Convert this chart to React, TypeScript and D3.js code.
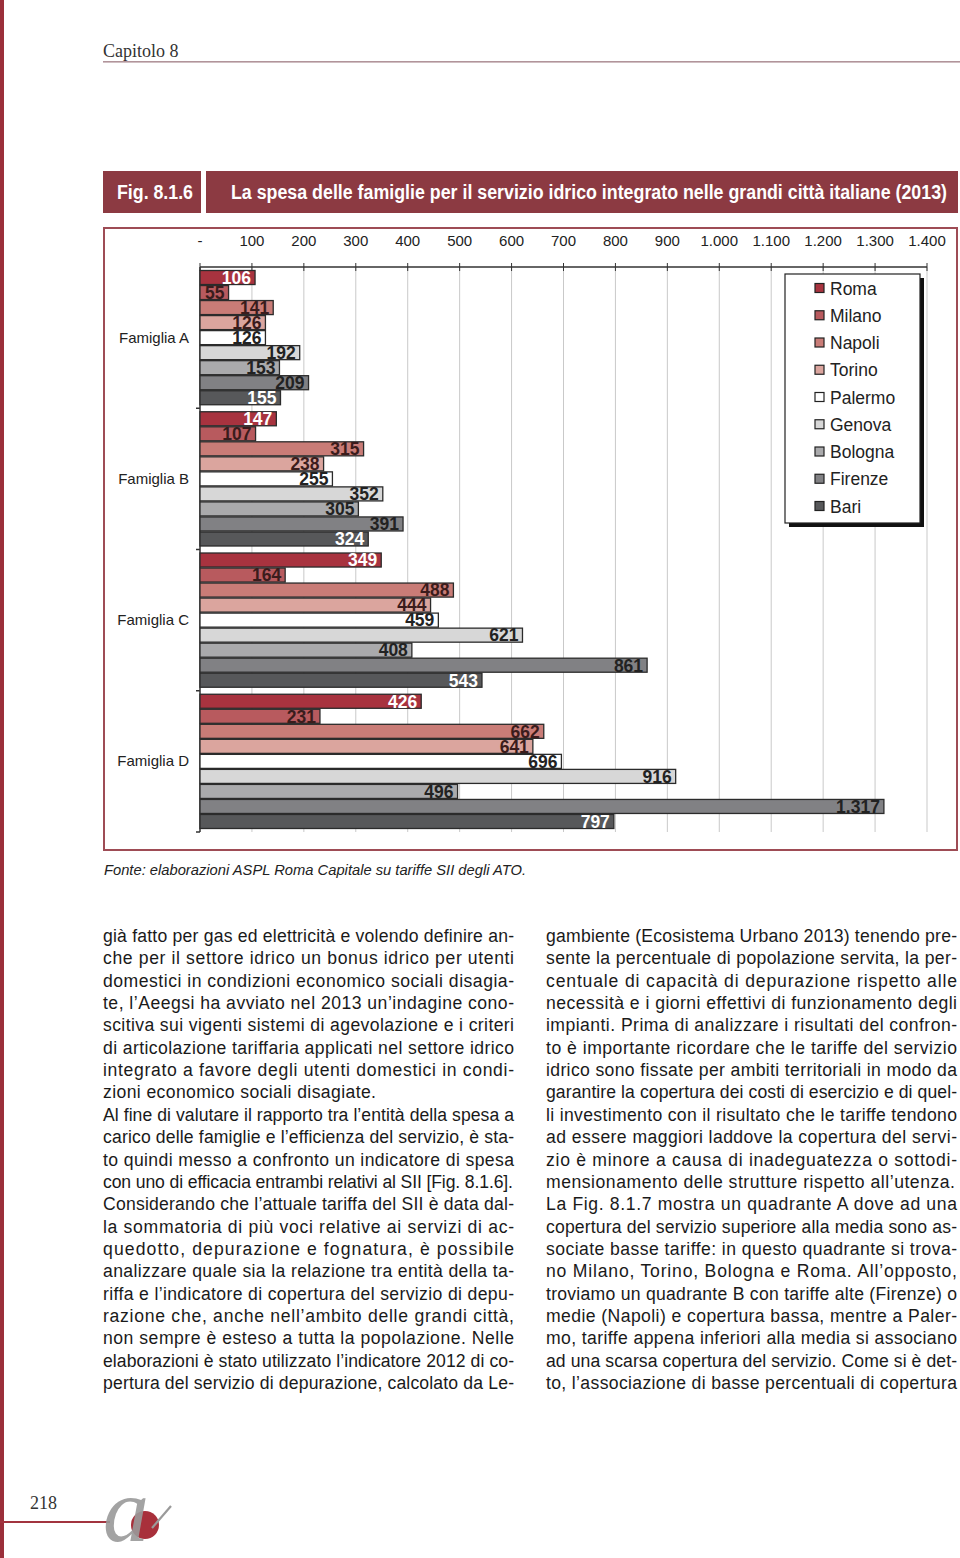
import React from "react";
import * as d3 from "d3";

const groups = ["Famiglia A", "Famiglia B", "Famiglia C", "Famiglia D"];
const cities = ["Roma", "Milano", "Napoli", "Torino", "Palermo", "Genova", "Bologna", "Firenze", "Bari"];
const famigliaA = [106, 55, 141, 126, 126, 192, 153, 209, 155];
const famigliaB = [147, 107, 315, 238, 255, 352, 305, 391, 324];
const famigliaC = [349, 164, 488, 444, 459, 621, 408, 861, 543];
const famigliaD = [426, 231, 662, 641, 696, 916, 496, 1317, 797];
const tickValues = [0, 100, 200, 300, 400, 500, 600, 700, 800, 900, 1000, 1100, 1200, 1300, 1400];

const cityColors = ["#a8333f", "#b85a5e", "#c97c77", "#dba59e", "#ffffff", "#d7d7d7", "#aaaaac", "#818184", "#57585a"];
const labelColors = ["#ffffff", "#3b1c1c", "#3b1c1c", "#3b1c1c", "#222222", "#222222", "#222222", "#222222", "#ffffff"];

const leftLines = [
  "già fatto per gas ed elettricità e volendo definire an-",
  "che per il settore idrico un bonus idrico per utenti",
  "domestici in condizioni economico sociali disagia-",
  "te, l’Aeegsi ha avviato nel 2013 un’indagine cono-",
  "scitiva sui vigenti sistemi di agevolazione e i criteri",
  "di articolazione tariffaria applicati nel settore idrico",
  "integrato a favore degli utenti domestici in condi-",
  "zioni economico sociali disagiate.",
  "Al fine di valutare il rapporto tra l’entità della spesa a",
  "carico delle famiglie e l’efficienza del servizio, è sta-",
  "to quindi messo a confronto un indicatore di spesa",
  "con uno di efficacia entrambi relativi al SII [Fig. 8.1.6].",
  "Considerando che l’attuale tariffa del SII è data dal-",
  "la sommatoria di più voci relative ai servizi di ac-",
  "quedotto, depurazione e fognatura, è possibile",
  "analizzare quale sia la relazione tra entità della ta-",
  "riffa e l’indicatore di copertura del servizio di depu-",
  "razione che, anche nell’ambito delle grandi città,",
  "non sempre è esteso a tutta la popolazione. Nelle",
  "elaborazioni è stato utilizzato l’indicatore 2012 di co-",
  "pertura del servizio di depurazione, calcolato da Le-",
];
// paragraph-ending lines and their (shorter) widths
const leftEnds: Record<number, number> = { 7: 273, 11: 410 };

const rightLines = [
  "gambiente (Ecosistema Urbano 2013) tenendo pre-",
  "sente la percentuale di popolazione servita, la per-",
  "centuale di capacità di depurazione rispetto alle",
  "necessità e i giorni effettivi di funzionamento degli",
  "impianti. Prima di analizzare i risultati del confron-",
  "to è importante ricordare che le tariffe del servizio",
  "idrico sono fissate per ambiti territoriali in modo da",
  "garantire la copertura dei costi di esercizio e di quel-",
  "li investimento con il risultato che le tariffe tendono",
  "ad essere maggiori laddove la copertura del servi-",
  "zio è minore a causa di inadeguatezza o sottodi-",
  "mensionamento delle strutture rispetto all’utenza.",
  "La Fig. 8.1.7 mostra un quadrante A dove ad una",
  "copertura del servizio superiore alla media sono as-",
  "sociate basse tariffe: in questo quadrante si trova-",
  "no Milano, Torino, Bologna e Roma. All’opposto,",
  "troviamo un quadrante B con tariffe alte (Firenze) o",
  "medie (Napoli) e copertura bassa, mentre a Paler-",
  "mo, tariffe appena inferiori alla media si associano",
  "ad una scarsa copertura del servizio. Come si è det-",
  "to, l’associazione di basse percentuali di copertura",
];
const rightEnds: Record<number, number> = { 11: 409 };

const series = [famigliaA, famigliaB, famigliaC, famigliaD];

const SANS = "'Liberation Sans', Arial, Helvetica, sans-serif";
const NARROW = "'Liberation Sans Narrow', 'Arial Narrow', 'Liberation Sans', sans-serif";
const SERIF = "'Liberation Serif', 'DejaVu Serif', serif";

const itLocale = d3.formatLocale({ decimal: ",", thousands: ".", grouping: [3], currency: ["€", ""] });
const fmt = itLocale.format(",.0f");

export default function App() {
  const x = d3.scaleLinear().domain([0, 1400]).range([200, 927]);
  const yG = d3.scaleBand<string>().domain(groups).range([267, 832]).paddingInner(0).paddingOuter(0);
  const yC = d3.scaleBand<string>().domain(cities).range([0, yG.bandwidth()]).paddingInner(0).paddingOuter(0.2);

  const plotTop = 267;
  const plotBottom = 832;

  const renderColumn = (lines: string[], ends: Record<number, number>, x0: number, width: number) =>
    lines.map((ln, i) => {
      const w = ends[i] !== undefined ? ends[i] : width;
      return (
        <text
          key={i}
          x={x0}
          y={942 + i * 22.35}
          fontFamily={SANS}
          fontSize={17.6}
          fill="#1a1a1a"
          textLength={w}
          lengthAdjust="spacing"
        >
          {ln}
        </text>
      );
    });

  return (
    <svg
      width={960}
      height={1558}
      style={{ position: "absolute", left: 0, top: 0, background: "#fff" }}
      xmlns="http://www.w3.org/2000/svg"
    >
      <rect x={0} y={0} width={960} height={1558} fill="#ffffff" />
      {/* left page edge */}
      <rect x={0} y={0} width={4} height={1558} fill="#9b2f3a" />

      {/* header */}
      <text x={103} y={57} fontFamily={SERIF} fontSize={18} fill="#333">Capitolo 8</text>
      <rect x={103} y={61} width={857} height={1.6} fill="#b1949a" />

      {/* title bar */}
      <rect x={103} y={171} width={98} height={42} fill="#8c3a42" />
      <rect x={206} y={171} width={752} height={42} fill="#8c3a42" />
      <text x={117} y={198.5} textLength={76} lengthAdjust="spacingAndGlyphs" fontFamily={NARROW} fontWeight="bold" fontSize={20} fill="#fff">Fig. 8.1.6</text>
      <text x={231} y={198.5} textLength={716} lengthAdjust="spacingAndGlyphs" fontFamily={NARROW} fontWeight="bold" fontSize={20} fill="#fff">
        La spesa delle famiglie per il servizio idrico integrato nelle grandi città italiane (2013)
      </text>

      {/* chart frame */}
      <rect x={104} y={228} width={853} height={622} fill="#fff" stroke="#9e4c55" strokeWidth={2} />

      {/* gridlines */}
      {tickValues.filter((t) => t > 0).map((t) => (
        <line key={t} x1={x(t)} x2={x(t)} y1={plotTop} y2={plotBottom} stroke="#c9c9c9" strokeWidth={1} />
      ))}

      {/* top axis */}
      <line x1={x(0)} x2={x(1400)} y1={plotTop} y2={plotTop} stroke="#333" strokeWidth={1.5} />
      {tickValues.map((t) => (
        <g key={t}>
          <line x1={x(t)} x2={x(t)} y1={plotTop - 4} y2={plotTop + 4} stroke="#333" strokeWidth={1} />
          <text x={x(t)} y={246} textAnchor="middle" fontFamily={SANS} fontSize={15} fill="#222">
            {t === 0 ? "-" : fmt(t)}
          </text>
        </g>
      ))}

      {/* left axis */}
      <line x1={x(0)} x2={x(0)} y1={plotTop} y2={plotBottom} stroke="#333" strokeWidth={1.5} />
      {groups.map((g) => (
        <g key={g}>
          <line x1={x(0) - 4} x2={x(0)} y1={(yG(g) as number) + yG.bandwidth()} y2={(yG(g) as number) + yG.bandwidth()} stroke="#333" strokeWidth={1.5} />
          <text x={189} y={(yG(g) as number) + yG.bandwidth() / 2 + 5} textAnchor="end" fontFamily={SANS} fontSize={15} fill="#222">
            {g}
          </text>
        </g>
      ))}

      {/* bars */}
      {groups.map((g, gi) =>
        cities.map((c, ci) => {
          const v = series[gi][ci];
          const y0 = (yG(g) as number) + (yC(c) as number);
          const h = yC.bandwidth();
          return (
            <g key={g + c}>
              <rect x={x(0)} y={y0 + 0.5} width={x(v) - x(0)} height={h - 1} fill={cityColors[ci]} stroke="#2b2b2b" strokeWidth={1.3} />
              <text
                x={x(v) - 4}
                y={y0 + h / 2 + 6.3}
                textAnchor="end"
                fontFamily={NARROW}
                fontWeight="bold"
                fontSize={17.5}
                fill={labelColors[ci]}
              >
                {fmt(v)}
              </text>
            </g>
          );
        })
      )}

      {/* legend */}
      <rect x={789} y={278} width={135} height={249} fill="#111" />
      <rect x={785} y={274} width={135} height={249} fill="#fff" stroke="#222" strokeWidth={1.2} />
      {cities.map((c, i) => (
        <g key={c}>
          <rect x={815} y={283.5 + i * 27.25} width={9} height={9} fill={cityColors[i]} stroke="#222" strokeWidth={1.2} />
          <text x={830} y={294.5 + i * 27.25} fontFamily={SANS} fontSize={17.5} fill="#222">{c}</text>
        </g>
      ))}

      {/* source */}
      <text x={104} y={875} textLength={422} lengthAdjust="spacingAndGlyphs" fontFamily={SANS} fontStyle="italic" fontSize={14.6} fill="#222">
        Fonte: elaborazioni ASPL Roma Capitale su tariffe SII degli ATO.
      </text>

      {/* body text */}
      {renderColumn(leftLines, leftEnds, 103, 411)}
      {renderColumn(rightLines, rightEnds, 546, 411)}

      {/* footer */}
      <text x={30} y={1509} fontFamily={SERIF} fontSize={18} fill="#333">218</text>
      <rect x={0} y={1521} width={110} height={2} fill="#a2343f" />
      <circle cx={145} cy={1525} r={14} fill="#a8303b" />
      <text x={103} y={1541} fontFamily={SERIF} fontStyle="italic" fontSize={92} fill="#9a9a9a" opacity={0.9}>a</text>
      <line x1={152} y1={1528} x2={171} y2={1506} stroke="#9a9a9a" strokeWidth={2.2} />
    </svg>
  );
}
